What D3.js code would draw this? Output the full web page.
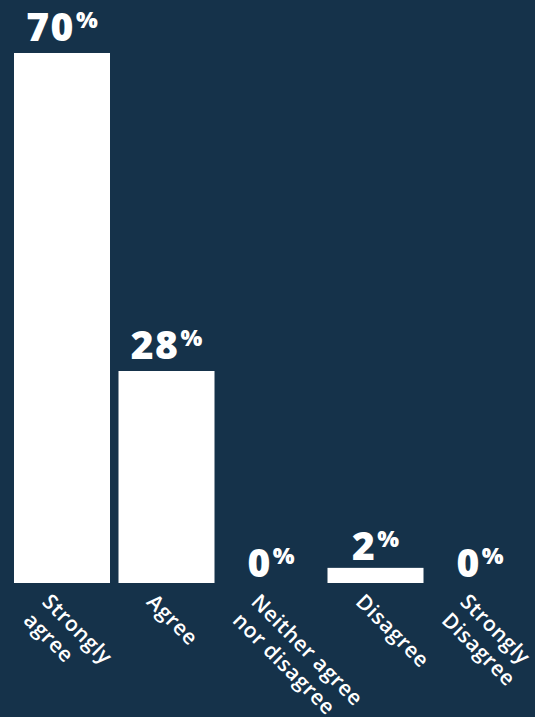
<!DOCTYPE html>
<html>
<head>
<meta charset="utf-8">
<script src="https://cdn.jsdelivr.net/npm/d3@7"></script>
<style>
  html, body { margin: 0; padding: 0; background: #15324a; }
  svg { display: block; }
</style>
</head>
<body>
<svg id="chart" width="535" height="717"></svg>
<script>
// Survey responses, share of respondents (%)
const categories = ["Strongly agree", "Agree", "Neither agree nor disagree", "Disagree", "Strongly Disagree"];
const labelLines = [["Strongly", "agree"], ["Agree"], ["Neither agree", "nor disagree"], ["Disagree"], ["Strongly", "Disagree"]];
const values = [70, 28, 0, 2, 0];

const W = 535, H = 717;
const plotBase = 583, plotTop = 53;
const font = "'Open Sans', 'Noto Sans', sans-serif";

const svg = d3.select("#chart");
svg.append("rect").attr("width", W).attr("height", H).attr("fill", "#15324a");

const x = d3.scaleBand()
  .domain(categories)
  .range([14, 528])
  .paddingInner(0.0813)
  .paddingOuter(0);

const y = d3.scaleLinear()
  .domain([0, d3.max(values)])
  .range([plotBase, plotTop]);

const data = categories.map((c, i) => ({ cat: c, value: values[i], lines: labelLines[i] }));

// bars
svg.append("g").selectAll("rect")
  .data(data)
  .join("rect")
  .attr("x", d => x(d.cat))
  .attr("y", d => y(d.value))
  .attr("width", x.bandwidth())
  .attr("height", d => plotBase - y(d.value))
  .attr("fill", "#ffffff");

// value labels: number with a raised, smaller percent sign
const vl = svg.append("g").selectAll("text")
  .data(data)
  .join("text")
  .attr("x", d => x(d.cat) + x.bandwidth() / 2)
  .attr("y", d => {
    const h = plotBase - y(d.value);
    return y(d.value) - Math.min(12, 6 + h * 0.1);
  })
  .attr("text-anchor", "middle")
  .attr("fill", "#ffffff")
  .attr("font-family", font)
  .attr("font-weight", 800);

vl.append("tspan")
  .attr("font-size", 39)
  .attr("letter-spacing", 1.5)
  .text(d => d.value);
vl.append("tspan")
  .attr("font-size", 23)
  .attr("dx", 1)
  .attr("dy", -13)
  .text("%");

// axis category labels, rotated 45 degrees
const cl = svg.append("g").selectAll("text")
  .data(data)
  .join("text")
  .attr("transform", d => `translate(${x(d.cat) + x.bandwidth() / 2 - 21},${603}) rotate(45)`)
  .attr("fill", "#ffffff")
  .attr("font-family", font)
  .attr("font-weight", 600)
  .attr("font-size", 21)
  .attr("letter-spacing", 0.6);

cl.selectAll("tspan")
  .data(d => d.lines.map((t, i) => ({ t, i })))
  .join("tspan")
  .attr("x", 0)
  .attr("y", d => d.i * 26)
  .text(d => d.t);
</script>
</body>
</html>
